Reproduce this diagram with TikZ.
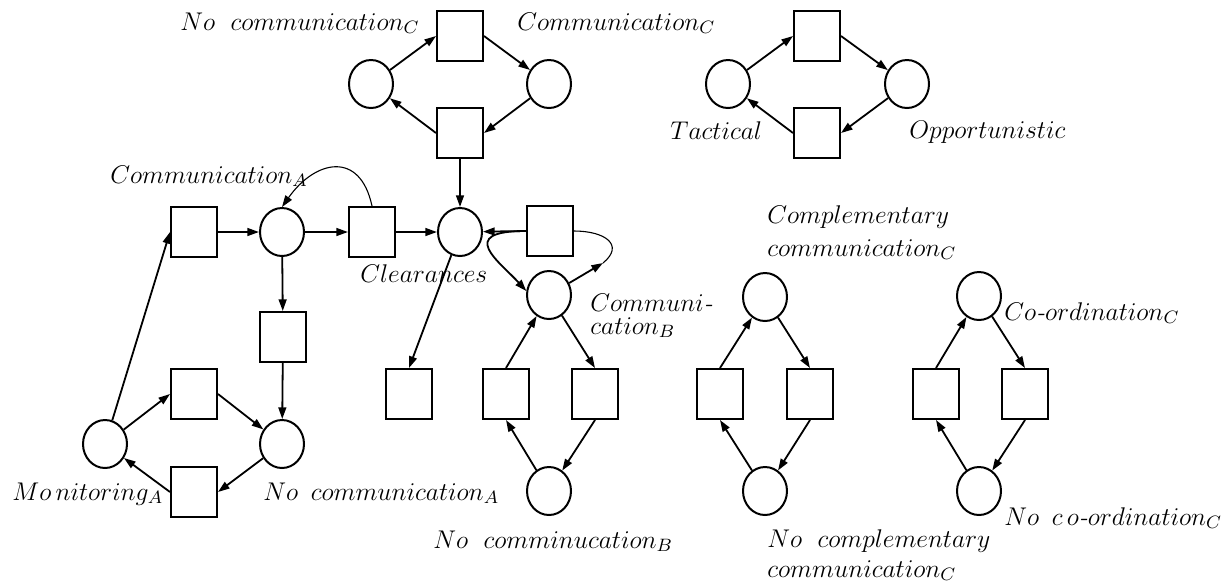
\RequirePackage{fix-cm}
\documentclass[tikz,border=0pt]{standalone}
\usetikzlibrary{arrows.meta,shapes.geometric}
\begin{document}
\begin{tikzpicture}[x=0.5pt,y=-0.5pt,
  place/.style={ellipse,draw,line width=1pt,minimum width=22pt,minimum height=24pt,inner sep=0pt},
  trans/.style={rectangle,draw,line width=1pt,minimum width=23pt,minimum height=25pt,inner sep=0pt},
  arc/.style={line width=0.9pt,-{Triangle[length=5.8pt,width=3.9pt]}},
  thinarc/.style={line width=0.55pt},
  lbl/.style={anchor=base west,inner sep=0pt,font=\fontsize{12.8}{15}\selectfont}]
\useasboundingbox (0,0) rectangle (1232,586);

% ---- communication C net (top left)
\node[place] (pNC) at (371,84) {};
\node[trans] (tC1) at (460,36) {};
\node[place] (pCC) at (549,84) {};
\node[trans] (tC2) at (460,133) {};
\draw[arc] (pNC) -- (tC1.west);
\draw[arc] (tC1.east) -- (pCC);
\draw[arc] (pCC) -- (tC2.east);
\draw[arc] (tC2.west) -- (pNC);
\node[lbl] (lNC) at (180,30) {$No\ \;communication_C$};
\node[lbl] (lCC) at (517,30) {$Communication_C$};

% ---- tactical / opportunistic net (top right)
\node[place] (pTac) at (728,84) {};
\node[trans] (tT1) at (817,36) {};
\node[place] (pOpp) at (907,84) {};
\node[trans] (tT2) at (817,133) {};
\draw[arc] (pTac) -- (tT1.west);
\draw[arc] (tT1.east) -- (pOpp);
\draw[arc] (pOpp) -- (tT2.east);
\draw[arc] (tT2.west) -- (pTac);
\node[lbl] (lTac) at (670,139) {$Tactical$};
\node[lbl] (lOpp) at (909,138) {$Opportunistic$};

% ---- communication A net and clearances
\node[trans] (S1) at (194,232) {};
\node[place] (CommA) at (282,232) {};
\node[trans] (S2) at (372,232) {};
\node[place] (Clr) at (460,232) {};
\node[trans] (S3) at (283,337) {};
\node[trans] (S4) at (194,394) {};
\node[place] (MonA) at (105,444) {};
\node[place] (NoCommA) at (282,444) {};
\node[trans] (S5) at (194,492) {};
\node[trans] (S6) at (409,394) {};

\draw[arc] (tC2) -- (Clr);
\draw[arc] (S1) -- (CommA);
\draw[arc] (CommA) -- (S2);
\draw[arc] (S2) -- (Clr);
\draw[arc,thinarc] (S2.north) .. controls (360,150) and (315,160) .. (CommA.north);
\draw[arc] (CommA) -- (S3);
\draw[arc] (S3) -- (NoCommA);
\draw[arc] (MonA) -- (S4.west);
\draw[arc] (S4.east) -- (NoCommA);
\draw[arc] (NoCommA) -- (S5.east);
\draw[arc] (S5.west) -- (MonA);
\draw[arc] (MonA) -- (S1.west);
\draw[arc] (Clr) -- (S6.north);

\node[lbl] (lCA) at (110,183) {$Communication_A$};
\node[lbl] (lClr) at (360,282) {$Clearances$};
\node[lbl] (lMon) at (12,500) {$Mo\,nitoring_A$};
\node[lbl] (lNCA) at (263,500) {$No\ \,communication_A$};

% ---- communication B net
\node[trans] (S7) at (550,231) {};
\node[place] (CommB) at (549,295) {};
\node[trans] (S8) at (506,394) {};
\node[trans] (S9) at (595,394) {};
\node[place] (NoCommB) at (549,491) {};
\coordinate (loopR) at (603,263);

\draw[arc] (S7.west) -- (Clr);
\draw[arc] (S7.west) .. controls (455,231) and (500,262) .. (CommB.170);
\draw[arc] (CommB) -- (loopR);
\draw[thinarc] (loopR) .. controls (625,245) and (605,231) .. (S7.east);
\draw[arc] (S8.north) -- (CommB);
\draw[arc] (CommB) -- (S9.north);
\draw[arc] (S9.south) -- (NoCommB);
\draw[arc] (NoCommB) -- (S8.south);

\node[lbl] (lCB1) at (590,311) {$Communi$\textit{-}};
\node[lbl] (lCB2) at (590,334) {$cation_B$};
\node[lbl] (lNCB) at (433,548) {$No\ \;comminucation_B$};

% ---- complementary communication net
\node[place] (pCo) at (765,297) {};
\node[trans] (tCoL) at (720,394) {};
\node[trans] (tCoR) at (810,394) {};
\node[place] (pNCo) at (765,491) {};
\draw[arc] (tCoL.north) -- (pCo);
\draw[arc] (pCo) -- (tCoR.north);
\draw[arc] (tCoR.south) -- (pNCo);
\draw[arc] (pNCo) -- (tCoL.south);
\node[lbl] (lCo1) at (767,223) {$Complementary$};
\node[lbl] (lCo2) at (767,256) {$communication_C$};
\node[lbl] (lNCo1) at (767,547) {$No\ \;complementary$};
\node[lbl] (lNCo2) at (767,577) {$communication_C$};

% ---- co-ordination net
\node[place] (pOrd) at (979,296) {};
\node[trans] (tOrdL) at (936,394) {};
\node[trans] (tOrdR) at (1025,394) {};
\node[place] (pNOrd) at (979,491) {};
\draw[arc] (tOrdL.north) -- (pOrd);
\draw[arc] (pOrd) -- (tOrdR.north);
\draw[arc] (tOrdR.south) -- (pNOrd);
\draw[arc] (pNOrd) -- (tOrdL.south);
\node[lbl] (lOrd) at (1004,320) {$Co$\textit{-}$ordination_C$};
\node[lbl] (lNOrd) at (1004,525) {$No\ \,c\,o$\textit{-}$ordination_C$};
\end{tikzpicture}
\end{document}
